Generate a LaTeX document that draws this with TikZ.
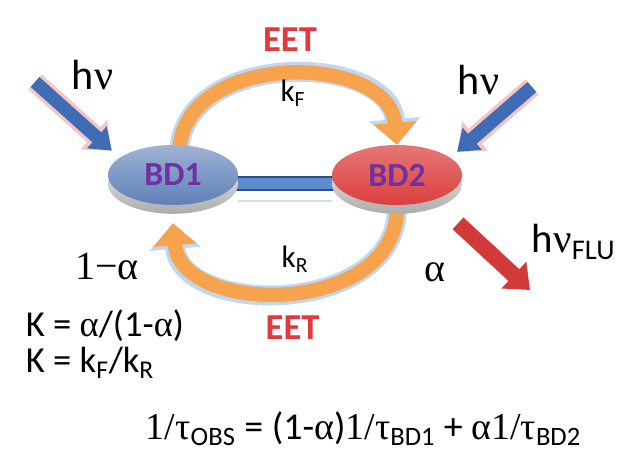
\documentclass[tikz,border=0pt]{standalone}
\usepackage{fontspec}
\setmainfont{Carlito}
\newfontfamily\serifgr{Liberation Serif}
\usetikzlibrary{arrows.meta}
\usetikzlibrary{backgrounds}
\usetikzlibrary{shapes.geometric}
\usetikzlibrary{shadows}

\definecolor{bdblue}{HTML}{5F80B8}
\definecolor{bdred}{HTML}{DC3E3E}
\definecolor{bdtext}{HTML}{7030A0}
\definecolor{eetorange}{HTML}{F7A24C}
\definecolor{glowblue}{HTML}{BFD8F0}
\definecolor{lightblue}{HTML}{3E6DB5}
\definecolor{glowpink}{HTML}{F6C4C4}
\definecolor{flured}{HTML}{D23A3A}
\definecolor{eetred}{HTML}{E2383E}
\definecolor{barblue}{HTML}{5B8CD0}
\definecolor{bardark}{HTML}{2E4E80}

\newcommand{\gr}[1]{{\serifgr #1}}

\begin{document}
\begin{tikzpicture}[
    bd/.style={ellipse, minimum width=3.25cm, minimum height=1.5cm, inner sep=0pt,
      font=\fontsize{24}{24}\selectfont\bfseries, text=bdtext,
      general shadow={shadow yshift=-0.22cm, top color=gray!10, bottom color=gray!65}},
    eet/.style={draw=eetorange, line width=0.36cm, -{Triangle[length=0.55cm, width=1.05cm]},
      preaction={draw=glowblue, line width=0.5cm, -{Triangle[length=0.64cm, width=1.25cm]}}},
    light/.style={draw=lightblue, line width=0.33cm, -{Triangle[length=0.5cm, width=0.7cm]},
      preaction={draw=glowpink, line width=0.5cm, -{Triangle[length=0.6cm, width=0.95cm]}}},
    emit/.style={draw=flured, line width=0.4cm, -{Triangle[length=0.55cm, width=0.88cm]}},
    hv/.style={font=\fontsize{30}{30}\selectfont, anchor=base},
    eetlabel/.style={font=\fontsize{26}{26}\selectfont\bfseries, text=eetred, anchor=base},
    rate/.style={font=\fontsize{22}{22}\selectfont, anchor=base},
    frac/.style={font=\fontsize{28.4}{29}\selectfont\serifgr, anchor=base},
    eqn/.style={font=\fontsize{27}{27}\selectfont, anchor=base west}]
  \useasboundingbox (-7.125,-7.125) rectangle (8.6,4.375);

  % the two chromophores
  \node[bd, top color=bdblue!60!white, bottom color=bdblue] (BD1) at (-2.8,0) {BD1};
  \node[bd, top color=bdred!70!white, bottom color=bdred] (BD2) at (2.8,0) {BD2};

  \begin{scope}[on background layer]
    \draw[bardark, line width=0.38cm, postaction={draw=barblue, line width=0.29cm}]
      ([xshift=-0.2cm, yshift=-0.21cm]BD1.east) -- ([xshift=0.2cm, yshift=-0.21cm]BD2.west);
    \draw[barblue!30, line width=0.05cm]
      ([yshift=-0.65cm]BD1.east) -- ([yshift=-0.65cm]BD2.west);
    \draw[eet] ([xshift=0.15cm, yshift=-0.2cm]BD1.north) .. controls +(0.1,2.6) and +(-0.2,2.3) .. (BD2.north);
    \draw[eet] (BD2.south) .. controls +(0.075,-2.8) and +(0.2,-2.35) .. ([yshift=-0.45cm]BD1.south);
  \end{scope}

  % excitation and emission
  \coordinate (tailL) at (-6.25,2.325);
  \coordinate (tailR) at (6.175,2.2);
  \coordinate (fluTip) at (6.125,-2.875);
  \draw[light, shorten >=0.26cm] (tailL) -- (BD1.162);
  \draw[light, shorten >=0.22cm] (tailR) -- (BD2.18);
  \draw[emit, shorten <=0.85cm] (BD2.-35) -- (fluTip);

  \node[hv] (hvL) at (-4.81,2.125) {h\gr{ν}};
  \node[hv] (hvR) at (4.84,2.0) {h\gr{ν}};
  \node[hv, anchor=base west, font=\fontsize{29}{29}\selectfont] (hvF) at (6.05,-1.95) {h\gr{ν}\textsubscript{FLU}};

  \node[eetlabel] (eetF) at (0.125,3.075) {EET};
  \node[eetlabel] (eetR) at (0.19,-4.125) {EET};
  \node[rate] (kF) at (0.2,1.825) {k\textsubscript{F}};
  \node[rate] (kR) at (0.25,-2.325) {k\textsubscript{R}};

  \node[frac] (popL) at (-4.45,-2.625) {1−α};
  \node[frac] (popR) at (3.75,-2.675) {α};

  \node[eqn, font=\fontsize{26}{26}\selectfont] (Kalpha) at (-6.6,-4.05) {K = \gr{α}/(1-\gr{α})};
  \node[eqn, font=\fontsize{26}{26}\selectfont] (Krate) at (-6.6,-4.95) {K = k\textsubscript{F}/k\textsubscript{R}};
  \node[eqn] (tau) at (-3.6,-6.625)
    {\gr{1/τ}\textsubscript{OBS} = (1-\gr{α})\gr{1/τ}\textsubscript{BD1} + \gr{α1/τ}\textsubscript{BD2}};
\end{tikzpicture}
\end{document}
